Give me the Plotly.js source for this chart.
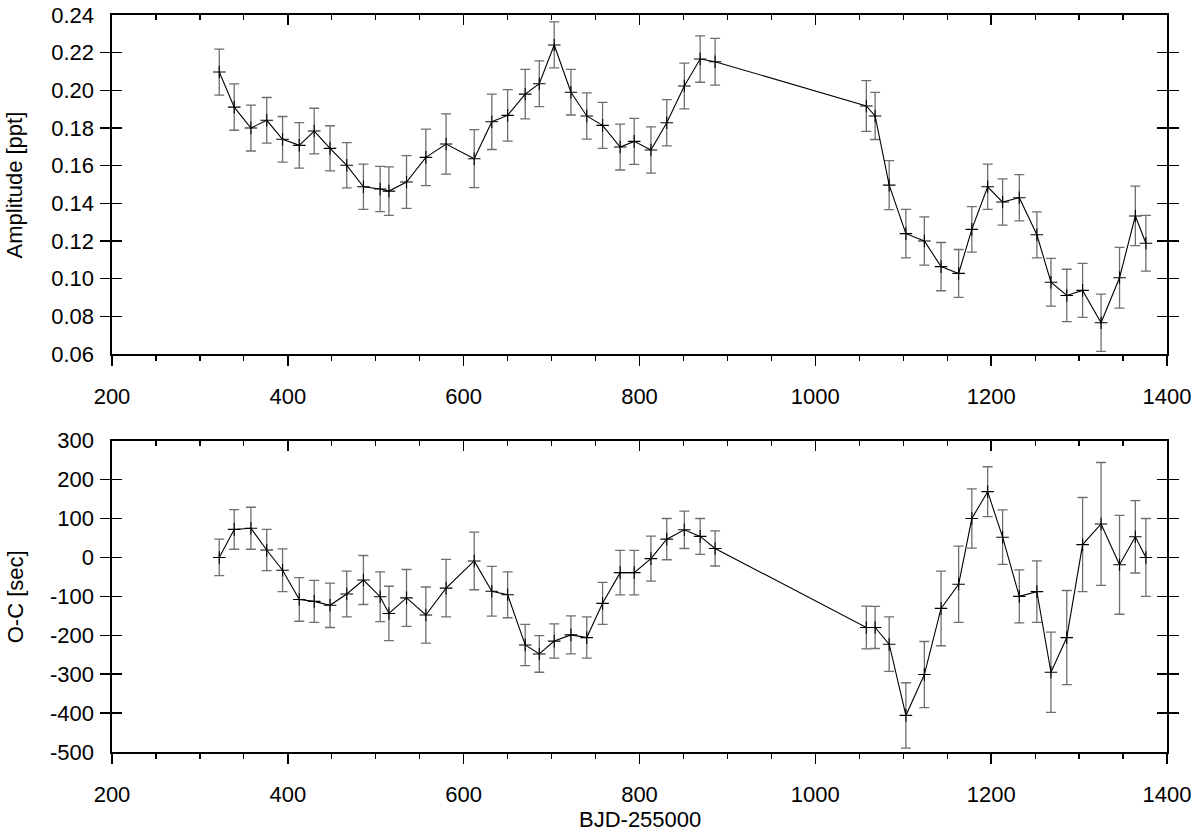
<!DOCTYPE html>
<html>
<head>
<meta charset="utf-8">
<script src="https://cdn.plot.ly/plotly-3.0.1.min.js"></script>
<style>
  html, body { margin: 0; padding: 0; background: #fff; }
  #chart { width: 1200px; height: 832px; }
</style>
</head>
<body>
<div id="chart"></div>
<script>
// BJD-255000 epochs (shared by both panels)
const bjd = [322, 339, 358, 376, 394, 413, 430, 448, 467, 486,
             505, 515, 535, 557, 580, 612, 632, 650, 670, 686,
             703, 722, 740, 758, 778, 794, 813, 831, 851, 869,
             886, 1058, 1068, 1084, 1103, 1124, 1143, 1163, 1178, 1196,
             1213, 1232, 1252, 1268, 1286, 1304, 1325, 1346, 1364, 1376];

// Amplitude [ppt] and its error
const amplitude = [0.2097, 0.1911, 0.1800, 0.1841, 0.1740, 0.1708, 0.1784, 0.1692, 0.1602, 0.1488,
                   0.1476, 0.1465, 0.1513, 0.1644, 0.1715, 0.1637, 0.1833, 0.1867, 0.1980, 0.2035,
                   0.2241, 0.1990, 0.1864, 0.1814, 0.1699, 0.1729, 0.1683, 0.1828, 0.2023, 0.2166,
                   0.2152, 0.1917, 0.1864, 0.1497, 0.1239, 0.1200, 0.1064, 0.1028, 0.1262, 0.1488,
                   0.1407, 0.1430, 0.1233, 0.0981, 0.0911, 0.0938, 0.0766, 0.1005, 0.1333, 0.1188];
const amplitudeErr = [0.0122, 0.0123, 0.0122, 0.0121, 0.0121, 0.0121, 0.0121, 0.0120, 0.0120, 0.0120,
                      0.0120, 0.0129, 0.0140, 0.0150, 0.0160, 0.0154, 0.0147, 0.0137, 0.0131, 0.0121,
                      0.0122, 0.0121, 0.0123, 0.0122, 0.0122, 0.0122, 0.0123, 0.0123, 0.0121, 0.0123,
                      0.0124, 0.0135, 0.0125, 0.0130, 0.0129, 0.0128, 0.0128, 0.0127, 0.0121, 0.0120,
                      0.0123, 0.0123, 0.0122, 0.0127, 0.0139, 0.0143, 0.0152, 0.0161, 0.0158, 0.0148];

// O-C [sec] and its error
const oc = [0, 72, 75, 19, -33, -108, -113, -123, -94, -58,
            -101, -144, -104, -148, -79, -9, -87, -96, -225, -248,
            -215, -199, -206, -118, -39, -39, -3, 47, 71, 54,
            23, -180, -180, -223, -406, -301, -131, -69, 100, 169,
            52, -100, -88, -295, -206, 33, 86, -19, 53, 0];
const ocErr = [47, 51, 54, 53, 55, 56, 54, 57, 59, 63,
               64, 70, 73, 72, 74, 74, 64, 59, 53, 47,
               44, 49, 53, 54, 57, 57, 58, 53, 48, 46,
               45, 55, 54, 70, 84, 85, 96, 98, 76, 64,
               70, 68, 79, 103, 121, 121, 158, 127, 93, 100];

// Tick labels
const ampTickVals = [0.06, 0.08, 0.10, 0.12, 0.14, 0.16, 0.18, 0.20, 0.22, 0.24];
const ampTickText = ['0.06', '0.08', '0.10', '0.12', '0.14', '0.16', '0.18', '0.20', '0.22', '0.24'];
const ocTickVals = [-500, -400, -300, -200, -100, 0, 100, 200, 300];
const ocTickText = ['-500', '-400', '-300', '-200', '-100', '0', '100', '200', '300'];
const xTickVals = [200, 400, 600, 800, 1000, 1200, 1400];

const FONT = 'Liberation Sans, Arial, Helvetica, sans-serif';
const black = '#000000';

function errTrace(x, y, e, xa, ya) {
  return {
    type: 'scatter', mode: 'lines+markers',
    x: x, y: y, xaxis: xa, yaxis: ya,
    line: { color: black, width: 1.1 },
    marker: { symbol: 'cross-thin-open', size: 9, color: black, line: { color: black, width: 1.1 } },
    error_y: { type: 'data', array: e, visible: true, color: '#6f6f6f', thickness: 1.3, width: 5 },
    hoverinfo: 'x+y', showlegend: false
  };
}

const traces = [
  errTrace(bjd, amplitude, amplitudeErr, 'x', 'y'),
  errTrace(bjd, oc, ocErr, 'x2', 'y2'),
  { type: 'scatter', x: [], y: [], xaxis: 'x3', yaxis: 'y', showlegend: false, hoverinfo: 'skip' },
  { type: 'scatter', x: [], y: [], xaxis: 'x4', yaxis: 'y2', showlegend: false, hoverinfo: 'skip' }
];

function xMain(anchor) {
  return {
    anchor: anchor, domain: [0, 1], range: [200, 1400],
    tickmode: 'array', tickvals: xTickVals,
    ticks: 'outside', ticklen: 10, tickwidth: 1.5, tickcolor: black,
    minor: { dtick: 50, tick0: 200, ticks: 'outside', ticklen: 5, tickwidth: 1.2, tickcolor: black, showgrid: false },
    showline: true, linewidth: 1.6, linecolor: black, mirror: true,
    showgrid: false, zeroline: false,
    ticklabelstandoff: 12,
    tickfont: { family: FONT, size: 22, color: black }
  };
}
function xTop(over, anchor) {
  return {
    overlaying: over, anchor: anchor, side: 'top', range: [200, 1400],
    tickmode: 'array', tickvals: xTickVals,
    ticks: 'inside', ticklen: 10, tickwidth: 1.5, tickcolor: black,
    minor: { dtick: 50, tick0: 200, ticks: 'inside', ticklen: 5, tickwidth: 1.2, tickcolor: black, showgrid: false },
    showticklabels: false, showline: false, showgrid: false, zeroline: false
  };
}
function yAx(domain, range, vals, text) {
  return {
    domain: domain, range: range,
    tickmode: 'array', tickvals: vals, ticktext: text,
    ticks: 'inside', ticklen: 10, tickwidth: 1.5, tickcolor: black,
    showline: true, linewidth: 1.6, linecolor: black, mirror: 'allticks',
    showgrid: false, zeroline: false,
    ticklabelstandoff: 12,
    tickfont: { family: FONT, size: 22, color: black }
  };
}

const layout = {
  width: 1200, height: 832,
  margin: { l: 112, r: 33, t: 15, b: 80 },
  paper_bgcolor: '#ffffff', plot_bgcolor: '#ffffff',
  font: { family: FONT, size: 22, color: black },
  showlegend: false,
  xaxis: xMain('y'),
  xaxis2: xMain('y2'),
  xaxis3: xTop('x', 'y'),
  xaxis4: xTop('x2', 'y2'),
  yaxis: yAx([0.54, 1], [0.06, 0.24], ampTickVals, ampTickText),
  yaxis2: yAx([0, 0.4224], [-500, 300], ocTickVals, ocTickText),
  annotations: [
    { text: 'Amplitude [ppt]', xref: 'paper', yref: 'paper', x: -0.092, y: 0.77,
      xanchor: 'center', yanchor: 'middle', textangle: -90, showarrow: false,
      font: { family: FONT, size: 22, color: black } },
    { text: 'O-C [sec]', xref: 'paper', yref: 'paper', x: -0.092, y: 0.2112,
      xanchor: 'center', yanchor: 'middle', textangle: -90, showarrow: false,
      font: { family: FONT, size: 22, color: black } },
    { text: 'BJD-255000', xref: 'paper', yref: 'paper', x: 0.5, y: -0.092,
      xanchor: 'center', yanchor: 'middle', showarrow: false,
      font: { family: FONT, size: 22, color: black } }
  ]
};

Plotly.newPlot('chart', traces, layout, { staticPlot: true, displayModeBar: false });
</script>
</body>
</html>
